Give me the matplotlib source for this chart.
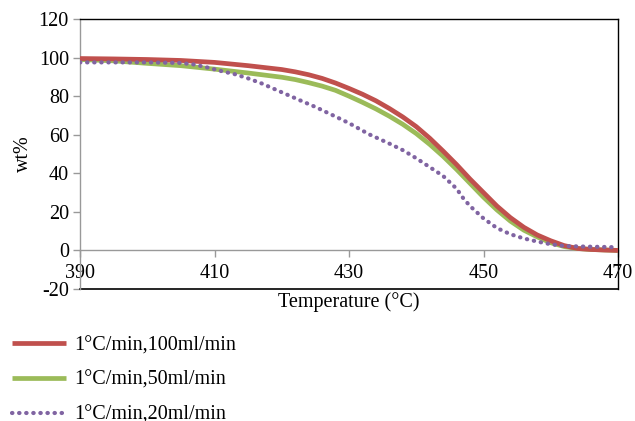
import matplotlib
matplotlib.use("Agg")
import matplotlib.pyplot as plt
from matplotlib.lines import Line2D

plt.rcParams['font.family'] = ['Liberation Serif', 'DejaVu Serif']

temp_red = [390, 395, 400, 405, 410, 415, 420, 422, 424, 426, 428, 430, 432, 434, 436, 438, 440, 442, 444, 446, 448, 450, 452, 454, 456, 458, 460, 462, 464, 466, 468, 470]
wt_red = [99.5, 99.3, 99.0, 98.5, 97.5, 95.8, 93.8, 92.6, 91.1, 89.2, 86.8, 84.0, 81.0, 77.6, 73.6, 69.2, 64.2, 58.2, 51.5, 44.5, 37.0, 30.0, 23.0, 17.0, 12.0, 8.0, 5.0, 2.5, 1.0, 0.5, 0.2, 0.0]

temp_green = [390, 395, 400, 405, 410, 415, 420, 422, 424, 426, 428, 430, 432, 434, 436, 438, 440, 442, 444, 446, 448, 450, 452, 454, 456, 458, 460, 462, 464, 466, 470]
wt_green = [99.0, 98.3, 97.0, 95.8, 94.0, 92.0, 89.8, 88.6, 87.0, 85.2, 83.0, 80.0, 76.8, 73.4, 69.6, 65.4, 60.6, 55.0, 48.8, 42.0, 34.8, 27.6, 21.0, 15.2, 10.5, 7.0, 4.0, 2.0, 1.0, 0.5, 0.0]

temp_purple = [390, 395, 400, 405, 407, 409, 411, 413, 415, 417, 420, 423, 425, 428, 430, 433, 436, 438, 440, 442, 444, 446, 447, 448, 450, 452, 454, 456, 458, 460, 462, 465, 468, 470]
wt_purple = [97.5, 97.5, 97.5, 97.2, 96.4, 94.8, 93.0, 91.4, 89.2, 86.6, 82.0, 77.4, 74.4, 69.4, 66.0, 60.2, 55.4, 52.0, 47.8, 43.2, 38.6, 32.0, 27.0, 23.0, 16.6, 11.6, 8.4, 6.2, 4.6, 3.2, 2.3, 2.0, 1.8, 1.6]

labels = ["1°C/min,100ml/min", "1°C/min,50ml/min", "1°C/min,20ml/min"]
xticks = [390, 410, 430, 450, 470]
yticks = [-20, 0, 20, 40, 60, 80, 100, 120]

c_red = '#C0504D'
c_green = '#9BBB59'
c_purple = '#8064A2'

fig = plt.figure(figsize=(6.35, 4.21), dpi=100)
ax = fig.add_axes([80/635, 1-289/421, 538/635, 270/421])

ax.plot(temp_red, wt_red, color=c_red, lw=3.4, solid_capstyle='butt', label=labels[0], zorder=3)
ax.plot(temp_green, wt_green, color=c_green, lw=3.4, solid_capstyle='butt', label=labels[1], zorder=2)
ax.plot(temp_purple, wt_purple, color=c_purple, lw=3.0, linestyle=(0, (0.1, 1.6)),
        dash_capstyle='round', label=labels[2], zorder=4)

ax.set_xlim(390, 470)
ax.set_ylim(-20, 120)
ax.set_xticks(xticks)
ax.set_yticks(yticks)
ax.set_xticklabels([str(t) for t in xticks])
ax.set_yticklabels([str(t) for t in yticks])

for s in ['top', 'right']:
    ax.spines[s].set_color('black')
    ax.spines[s].set_linewidth(1.0)
ax.spines['left'].set_color('#999999')
ax.spines['left'].set_linewidth(1.0)
ax.spines['bottom'].set_position(('data', 0))
ax.spines['bottom'].set_color('#999999')
ax.spines['bottom'].set_linewidth(1.0)
ax.spines['bottom'].set_zorder(1)

# bottom black frame line
ax.add_line(Line2D([0, 1], [0, 0], transform=ax.transAxes, color='black', lw=1.2, clip_on=False))

ax.tick_params(axis='x', direction='out', length=5, width=1, color='#999999',
               labelsize=14.5, pad=5)
ax.tick_params(axis='y', direction='out', length=5, width=1, color='#999999',
               labelsize=14.5, pad=3)

ax.set_xlabel("Temperature (°C)", fontsize=14.5, labelpad=0)
ax.xaxis.set_label_coords(0.5, -0.012)
ax.set_ylabel("wt%", fontsize=14.5, labelpad=4)

leg = fig.legend(loc='upper left', bbox_to_anchor=(12/635, 1-336/421), frameon=False,
                 fontsize=14.5, handlelength=2.7, handletextpad=0.4, labelspacing=0.78,
                 borderaxespad=0, borderpad=0)

fig.savefig("out.png", dpi=100)
